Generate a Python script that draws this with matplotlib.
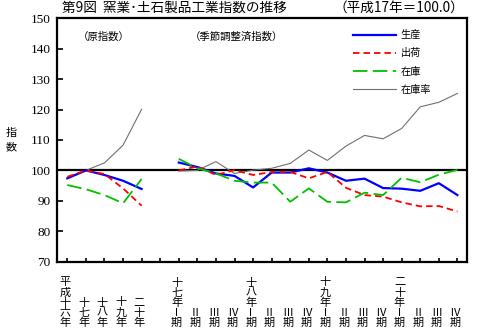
import numpy as np
import matplotlib
matplotlib.use("Agg")
import matplotlib.pyplot as plt
from matplotlib.transforms import blended_transform_factory

plt.rcParams['font.family'] = ['Noto Sans CJK JP', 'DejaVu Sans']

# x positions: 0-4 annual (H16-H20), 6-21 quarterly (H17 I - H20 IV)
annual_x = [0, 1, 2, 3, 4]
quarter_x = list(range(6, 22))

# 原指数 (annual)
prod_a = [97.4, 100.0, 98.5, 96.6, 93.9]
ship_a = [97.9, 100.0, 98.8, 94.1, 88.4]
inv_a = [95.2, 93.8, 91.9, 89.2, 97.2]
invr_a = [97.6, 100.0, 102.5, 108.3, 120.1]

# 季節調整済指数 (quarterly)
prod_q = [102.6, 101.1, 99.0, 98.2, 94.4, 99.3, 99.3, 100.7, 99.3, 96.6, 97.3, 94.2, 94.0, 93.3, 95.8, 91.9]
ship_q = [100.0, 101.3, 98.5, 100.1, 98.5, 99.5, 99.5, 97.4, 99.5, 94.3, 91.9, 91.4, 89.5, 88.2, 88.3, 86.5]
inv_q = [103.8, 100.7, 99.0, 96.6, 96.0, 96.0, 89.7, 94.1, 89.7, 89.5, 92.7, 91.9, 97.6, 96.1, 98.6, 100.2]
invr_q = [99.8, 100.0, 102.9, 99.0, 100.1, 100.7, 102.3, 106.7, 103.3, 108.0, 111.5, 110.4, 113.8, 120.9, 122.4, 125.3]

series_labels = ['生産', '出荷', '在庫', '在庫率']

tick_labels = ['平成十六年', '十七年', '十八年', '十九年', '二十年', '',
               '十七年Ⅰ期', 'Ⅱ期', 'Ⅲ期', 'Ⅳ期',
               '十八年Ⅰ期', 'Ⅱ期', 'Ⅲ期', 'Ⅳ期',
               '十九年Ⅰ期', 'Ⅱ期', 'Ⅲ期', 'Ⅳ期',
               '二十年Ⅰ期', 'Ⅱ期', 'Ⅲ期', 'Ⅳ期']

yticks = [70, 80, 90, 100, 110, 120, 130, 140, 150]

W, H = 480, 333
fig = plt.figure(figsize=(4.8, 3.33), dpi=100)
ax = fig.add_axes([57.3 / W, 1 - 261.7 / H, (466.7 - 57.3) / W, (261.7 - 18.3) / H])

styles = [
    dict(color='#0000ff', lw=1.6, ls='-'),
    dict(color='#ff0000', lw=1.3, ls=(0, (3.6, 2.2))),
    dict(color='#00c000', lw=1.3, ls=(0, (8, 3))),
    dict(color='#707070', lw=0.8, ls='-'),
]

ax.axhline(100, color='black', lw=1.6, zorder=1)

for (ya, yq), st, lab in zip([(prod_a, prod_q), (ship_a, ship_q), (inv_a, inv_q), (invr_a, invr_q)],
                             styles, series_labels):
    ax.plot(annual_x, ya, zorder=3 if lab != '在庫率' else 2, **st)
    ax.plot(quarter_x, yq, label=lab, zorder=3 if lab != '在庫率' else 2, **st)

ax.set_xlim(-0.54, 21.5)
ax.set_ylim(70, 150)
ax.set_yticks(yticks)
ax.set_yticklabels([str(v) for v in yticks], family='Liberation Serif', fontsize=9.5)
ax.set_xticks(range(22))
ax.set_xticklabels([''] * 22)
ax.tick_params(axis='y', direction='in', length=4, width=1.2, pad=5)
ax.tick_params(axis='x', direction='in', length=3, width=1.2)
for s in ax.spines.values():
    s.set_linewidth(1.6)

# vertical tick labels, bottom aligned
tr = blended_transform_factory(ax.transData, fig.transFigure)
for i, lab in enumerate(tick_labels):
    if lab:
        ax.text(i - 0.12, 1 - 328 / H, '\n'.join(lab), transform=tr, ha='center', va='bottom',
                fontsize=8, linespacing=1.0, clip_on=False)

# titles and annotations
fig.text(62 / W, 1 - 8 / H, '第9図  窯業･土石製品工業指数の推移', fontsize=9.8, va='center', ha='left')
fig.text(464 / W, 1 - 8 / H, '（平成17年＝100.0）', fontsize=9.8, va='center', ha='right')
fig.text(78 / W, 1 - 37 / H, '（原指数）', fontsize=7.5, va='center', ha='left')
fig.text(190 / W, 1 - 37 / H, '（季節調整済指数）', fontsize=7.5, va='center', ha='left')
fig.text(11 / W, 1 - 140 / H, '指\n数', fontsize=8, va='center', ha='center', linespacing=1.6)

leg = ax.legend(loc='upper left', bbox_to_anchor=(348 / W, 1 - 25 / H), bbox_transform=fig.transFigure,
                frameon=False, fontsize=7.3, handlelength=4.2, handletextpad=0.5, labelspacing=0.8,
                borderpad=0)

fig.savefig('out.png', dpi=100)
